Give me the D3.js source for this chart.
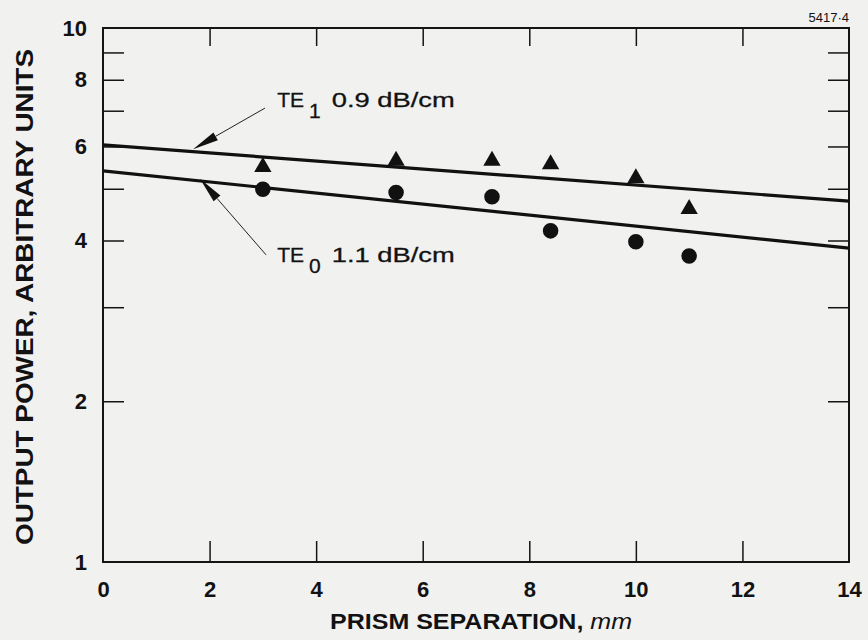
<!DOCTYPE html>
<html>
<head>
<meta charset="utf-8">
<script src="https://cdn.jsdelivr.net/npm/d3@7"></script>
<style>
  body { margin: 0; background: #f1f1ef; }
  svg { display: block; background: #f1f1ef; }
  text { fill: #121212; font-family: 'Liberation Sans', Arial, sans-serif; }
  .tick-label { font-size: 22px; font-weight: bold; }
  .axis-title { font-size: 22px; font-weight: bold; }
  .note { font-size: 21px; stroke: #121212; stroke-width: 0.3px; }
</style>
</head>
<body>
<svg width="868" height="640"></svg>
<script>
const te1Sep = [3.0, 5.5, 7.3, 8.4, 10.0, 11.0];
const te1Power = [5.49, 5.64, 5.64, 5.56, 5.23, 4.58];
const te0Sep = [3.0, 5.5, 7.3, 8.4, 10.0, 11.0];
const te0Power = [4.99, 4.92, 4.83, 4.17, 3.98, 3.74];

// fitted loss lines (end points at 0 and 14 mm)
const fitSep = [0, 14];
const te1Fit = [6.04, 4.74];
const te0Fit = [5.40, 3.87];

// tick labels
const xTickLabels = [0, 2, 4, 6, 8, 10, 12, 14];
const xMinorTicks = [2, 4, 6, 8, 10, 12];
const yTickLabels = [1, 2, 4, 6, 8, 10];
const yMinorTicks = [2, 3, 4, 5, 6, 7, 8, 9];

// annotation anchors (data units): text position, arrow tail, arrow tip
const notes = [
  { mode: 'TE', sub: '1', rate: '0.9 dB/cm', tx: 3.27, ty: 7.1, tail: [3.04, 7.08], tip: [1.69, 5.93] },
  { mode: 'TE', sub: '0', rate: '1.1 dB/cm', tx: 3.27, ty: 3.65, tail: [3.06, 3.76], tip: [1.82, 5.22] }
];

const svg = d3.select('svg');
const margin = { top: 28, right: 19, bottom: 78, left: 103 };
const width = +svg.attr('width');
const height = +svg.attr('height');
const innerWidth = width - margin.left - margin.right;
const innerHeight = height - margin.top - margin.bottom;

const g = svg.append('g')
  .attr('transform', `translate(${margin.left},${margin.top})`);

const xScale = d3.scaleLinear().domain([0, 14]).range([0, innerWidth]);
const yScale = d3.scaleLog().domain([1, 10]).range([innerHeight, 0]);

//frame
g.append('rect')
  .attr('width', innerWidth)
  .attr('height', innerHeight)
  .attr('fill', 'none')
  .attr('stroke', '#151515')
  .attr('stroke-width', 2);

//inward ticks on all four sides, no labels
const tickStyle = sel => {
  sel.select('.domain').remove();
  sel.selectAll('.tick text').remove();
  sel.selectAll('.tick line').attr('stroke', '#151515').attr('stroke-width', 1.5);
};

g.append('g')
  .attr('transform', `translate(0,${innerHeight})`)
  .call(d3.axisBottom(xScale).tickValues(xMinorTicks).tickSize(-21))
  .call(tickStyle);
g.append('g')
  .call(d3.axisTop(xScale).tickValues(xMinorTicks).tickSize(-18))
  .call(tickStyle);
g.append('g')
  .call(d3.axisLeft(yScale).tickValues(yMinorTicks).tickSize(-21))
  .call(tickStyle);
g.append('g')
  .attr('transform', `translate(${innerWidth},0)`)
  .call(d3.axisRight(yScale).tickValues(yMinorTicks).tickSize(-21))
  .call(tickStyle);

//tick labels
const xLabels = g.append('g')
  .attr('transform', `translate(0,${innerHeight})`)
  .call(d3.axisBottom(xScale).tickValues(xTickLabels).tickSize(0).tickPadding(19).tickFormat(d3.format('d')));
xLabels.select('.domain').remove();
xLabels.selectAll('text').attr('class', 'tick-label');

const yLabels = g.append('g')
  .call(d3.axisLeft(yScale).tickValues(yTickLabels).tickSize(0).tickPadding(16).tickFormat(d3.format('d')));
yLabels.select('.domain').remove();
yLabels.selectAll('text').attr('class', 'tick-label');

//fit lines
const line = d3.line()
  .x(d => xScale(d[0]))
  .y(d => yScale(d[1]));

[te1Fit, te0Fit].forEach(fit => {
  g.append('path')
    .attr('d', line(fitSep.map((s, i) => [s, fit[i]])))
    .attr('fill', 'none')
    .attr('stroke', '#111')
    .attr('stroke-width', 3.2);
});

//markers
g.selectAll('.te1')
  .data(te1Sep.map((s, i) => [s, te1Power[i]]))
  .enter().append('path')
  .attr('class', 'te1')
  .attr('transform', d => `translate(${xScale(d[0])},${yScale(d[1])})`)
  .attr('d', d3.symbol().type(d3.symbolTriangle).size(130))
  .attr('fill', '#111');

g.selectAll('.te0')
  .data(te0Sep.map((s, i) => [s, te0Power[i]]))
  .enter().append('path')
  .attr('class', 'te0')
  .attr('transform', d => `translate(${xScale(d[0])},${yScale(d[1])})`)
  .attr('d', d3.symbol().type(d3.symbolCircle).size(190))
  .attr('fill', '#111');

//annotations with arrows
notes.forEach(n => {
  const x0 = xScale(n.tail[0]), y0 = yScale(n.tail[1]);
  const x1 = xScale(n.tip[0]), y1 = yScale(n.tip[1]);
  const ang = Math.atan2(y1 - y0, x1 - x0);
  const len = 26, half = 4.5;
  const bx = x1 - len * Math.cos(ang), by = y1 - len * Math.sin(ang);
  const px = -Math.sin(ang) * half, py = Math.cos(ang) * half;

  g.append('line')
    .attr('x1', x0).attr('y1', y0)
    .attr('x2', bx).attr('y2', by)
    .attr('stroke', '#222')
    .attr('stroke-width', 1);
  g.append('path')
    .attr('d', `M${x1},${y1}L${bx + px},${by + py}L${bx - px},${by - py}Z`)
    .attr('fill', '#111');

  const t = g.append('text')
    .attr('class', 'note')
    .attr('x', xScale(n.tx))
    .attr('y', yScale(n.ty));
  t.append('tspan').text(n.mode);
  t.append('tspan').attr('dy', 11).attr('dx', 5).text(n.sub);
  t.append('tspan')
    .attr('dy', -11).attr('dx', 11)
    .attr('textLength', 123)
    .attr('lengthAdjust', 'spacingAndGlyphs')
    .text(n.rate);
});

//axis titles
g.append('text')
  .attr('class', 'axis-title')
  .attr('x', innerWidth / 2 + 5)
  .attr('y', innerHeight + 67)
  .attr('text-anchor', 'middle')
  .attr('textLength', 302)
  .attr('lengthAdjust', 'spacingAndGlyphs')
  .text('PRISM SEPARATION, ')
  .append('tspan')
  .style('font-weight', 'normal')
  .style('font-style', 'italic')
  .text('mm');

g.append('text')
  .attr('class', 'axis-title')
  .attr('transform', `translate(${33 - margin.left},${297 - margin.top}) rotate(-90)`)
  .attr('text-anchor', 'middle')
  .attr('textLength', 496)
  .attr('lengthAdjust', 'spacingAndGlyphs')
  .style('font-size', '23px')
  .text('OUTPUT POWER, ARBITRARY UNITS');

svg.append('text')
  .attr('x', margin.left + innerWidth)
  .attr('y', 22)
  .attr('text-anchor', 'end')
  .style('font-size', '13px')
  .text('5417·4');
</script>
</body>
</html>
